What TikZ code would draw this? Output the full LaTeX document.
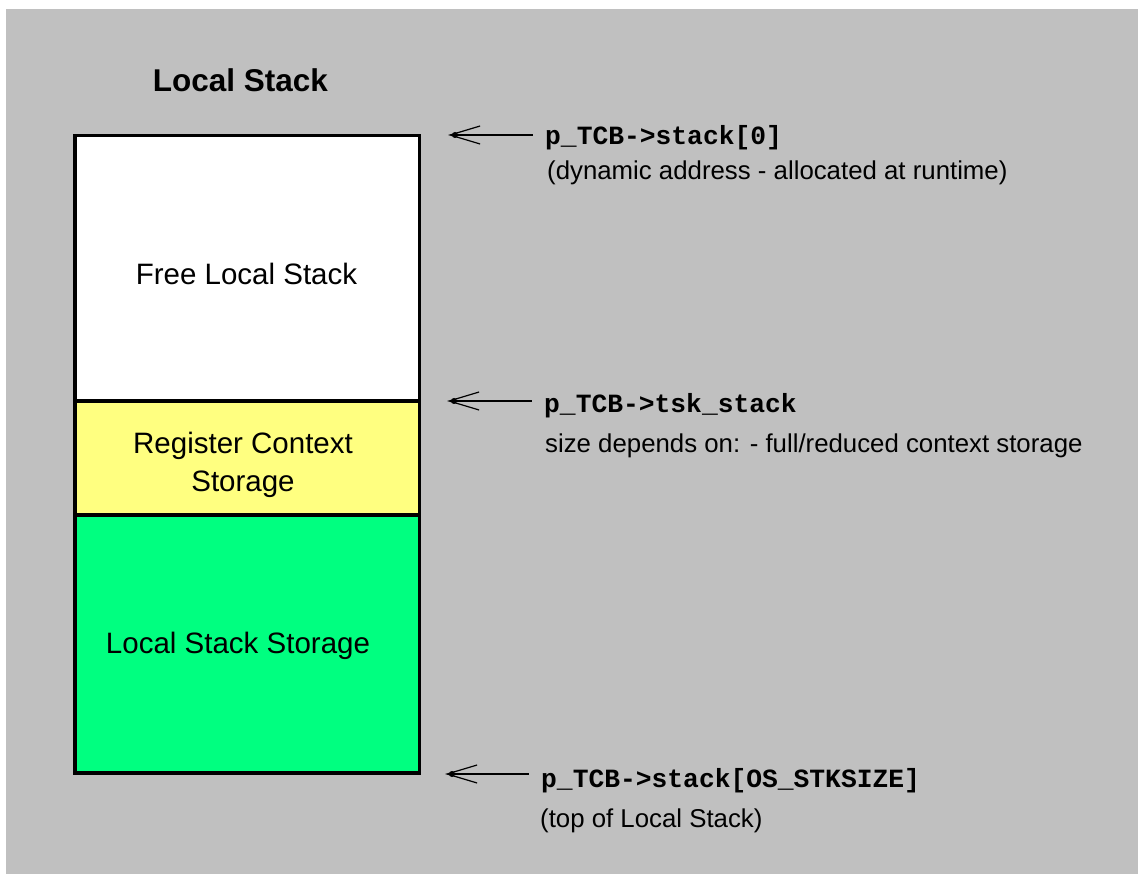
\documentclass[tikz,border=0pt]{standalone}
\usepackage{fontspec}
\setmainfont{Liberation Sans}
\newfontfamily\codefont{Liberation Mono}
\usetikzlibrary{arrows.meta}

\definecolor{panel}{HTML}{C0C0C0}
\definecolor{regyellow}{HTML}{FFFF80}
\definecolor{stackgreen}{HTML}{00FF80}

\begin{document}
\begin{tikzpicture}[x=1pt,y=-1pt,
  segment/.style={draw=black, line width=3.5pt},
  boxlabel/.style={font=\fontsize{29.5}{37.5}\selectfont, align=center, inner sep=0pt},
  title/.style={font=\bfseries\fontsize{31.5}{36}\selectfont, anchor=base, inner sep=0pt},
  code/.style={font=\codefont\bfseries\fontsize{26.3}{30}\selectfont, anchor=base west, inner xsep=12pt, inner ysep=0pt},
  note/.style={font=\fontsize{25.8}{30}\selectfont, anchor=base west, inner sep=0pt},
  pointer/.style={line width=1.8pt, {Straight Barb[length=30pt,width=18pt,line width=1.2pt]}-},
  tipdot/.style={fill=black}]

% page and panel
\useasboundingbox (0,0) rectangle (1138,874);
\fill[white] (0,0) rectangle (1138,874);
\fill[panel] (6,9) rectangle (1138,874);

% title
\node[title] (title) at (240.5,92) {Local Stack};

% stack segments
\filldraw[segment, fill=white]      (75,135.5) rectangle (419.7,401);
\filldraw[segment, fill=regyellow]  (75,401)   rectangle (419.7,515);
\filldraw[segment, fill=stackgreen] (75,515)   rectangle (419.7,773);

\node[boxlabel, anchor=base] (free) at (246.5,285) {Free Local Stack};
\node[boxlabel] (reg) at (243,465) {Register Context\\Storage};
\node[boxlabel, anchor=base] (loc) at (238,653) {Local Stack Storage};

% pointer labels
\node[code] (c1) at (533,145) {p\_TCB->stack[0]};
\node[note] (n1) at (547,180) {(dynamic address - allocated at runtime)};

\node[code] (c2) at (532,413) {p\_TCB->tsk\_stack};
\node[note] (n2) at (545,452) {size depends on: - full/reduced context storage};

\node[code] (c3) at (529,787) {p\_TCB->stack[OS\_STKSIZE]};
\node[note] (n3) at (540,827) {(top of Local Stack)};

% pointer arrows
\coordinate (t1) at (448,135);
\coordinate (t2) at (447,401);
\coordinate (t3) at (445,774);
\draw[pointer] (t1) -- (t1 -| c1.west);
\draw[pointer] (t2) -- (t2 -| c2.west);
\draw[pointer] (t3) -- (t3 -| c3.west);
\foreach \t in {t1,t2,t3} \fill[tipdot] ([xshift=7pt]\t) circle (3pt);
\end{tikzpicture}
\end{document}
